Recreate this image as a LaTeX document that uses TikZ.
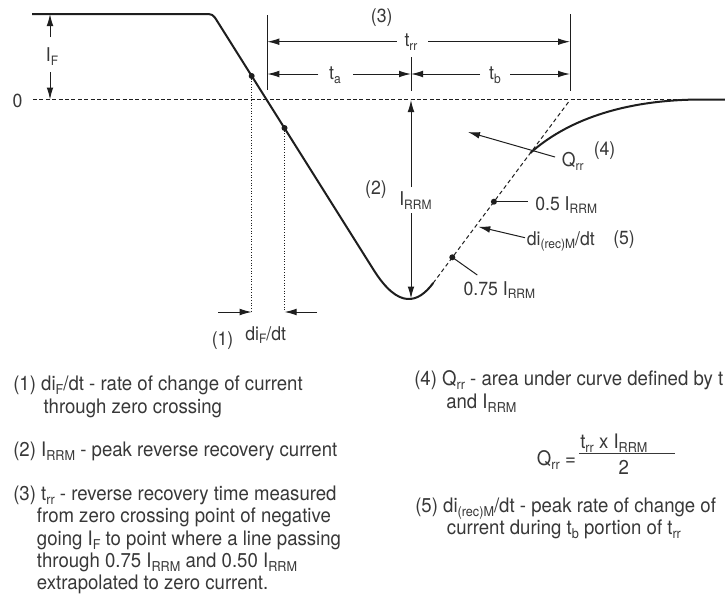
\documentclass[tikz,border=0pt]{standalone}
\usepackage{graphicx}
\usepackage{fontspec}
\setmainfont[FakeStretch=0.93]{TeX Gyre Heros}
\usetikzlibrary{arrows.meta}
\definecolor{txt}{HTML}{383838}
\definecolor{ln}{HTML}{1E1E1E}
\newcommand{\sbs}[1]{\raisebox{-0.2em}{\scalebox{0.68}{#1}}}
\begin{document}
\begin{tikzpicture}[x=0.75pt,y=-0.75pt,
  curve/.style={line width=1.5pt,draw=ln,line join=round},
  dimln/.style={line width=0.75pt,draw=ln},
  tip/.style={-{Latex[length=9pt,width=5pt]}},
  zerol/.style={line width=0.8pt,draw=ln,dash pattern=on 3pt off 1.8pt},
  slopel/.style={line width=0.75pt,draw=ln,dash pattern=on 3pt off 2.2pt},
  dotl/.style={line width=0.75pt,draw=ln,dash pattern=on 0.75pt off 1.25pt},
  lab/.style={text=txt,font=\fontsize{14.25pt}{17pt}\selectfont,inner sep=0pt},
  body/.style={text=txt,font=\fontsize{15pt}{18pt}\selectfont,inner sep=0pt,anchor=base west},
  pdot/.style={circle,fill=ln,inner sep=0pt,minimum size=4.5pt}]
\fill[white] (0,0) rectangle (725,594);
\useasboundingbox (0,0) rectangle (725,594);
\begin{scope}
\clip (0,0) rectangle (725,594);
% ---------- key points ----------
\coordinate (start) at (32,14);
\coordinate (c1) at (204,14);
\coordinate (cc) at (212.7,14);
\coordinate (c2) at (217.5,21.6);
\coordinate (d1) at (373.7,270);
\coordinate (d2) at (433.2,283);
\coordinate (zc) at (570,100);
\coordinate (r0) at (530.3,153);
\coordinate (r1) at (700,99.5);
\coordinate (r2) at (725,99.5);
\coordinate (z0) at (33,99.5);
\coordinate (z1) at (698,99.5);
% ---------- zero line ----------
\draw[zerol] (z0) -- (z1);
% ---------- main curve ----------
\draw[curve] (start) -- (c1) .. controls (cc) .. (c2) -- (d1)
  .. controls (398.7,309.7) and (418.2,303.2) .. (d2);
\draw[slopel] (d2) -- (zc);
\draw[curve] (r0) .. controls (565,122) and (620,100) .. (r1) -- (r2);
% ---------- dots ----------
\node[pdot] (p1) at (251.7,76) {};
\node[pdot] (p2) at (284.5,128) {};
\node[pdot] (p75) at (452.3,257.3) {};
\node[pdot] (p50) at (493.9,201.7) {};
% ---------- I_F ----------
\node[lab,anchor=base] (IF) at (52,61.7) {I\sbs{F}};
\coordinate (IFt) at (50,14);
\coordinate (IFa) at (50,37);
\coordinate (IFb) at (50,72);
\coordinate (IFz) at (50,99.5);
\draw[dimln,tip] (IFa) -- (IFt);
\draw[dimln,tip] (IFb) -- (IFz);
\node[lab,anchor=base] (zero) at (17.5,107) {0};
% ---------- t_rr dimension ----------
\coordinate (tk1a) at (267.3,15);  \coordinate (tk1b) at (267.3,90);
\coordinate (tk2a) at (411,57);    \coordinate (tk2b) at (411,91);
\coordinate (tk3a) at (570,14);    \coordinate (tk3b) at (570,91);
\draw[dimln] (tk1a) -- (tk1b);
\draw[dimln] (tk2a) -- (tk2b);
\draw[dimln] (tk3a) -- (tk3b);
\node[lab,anchor=base] (n3) at (381.7,22.5) {(3)};
\node[lab,anchor=base] (trr) at (411,46.5) {t\sbs{rr}};
\node[lab,anchor=base] (ta) at (335,79.5) {t\sbs{a}};
\node[lab,anchor=base] (tb) at (495,79.5) {t\sbs{b}};
\coordinate (a1l) at (267.3,41.7); \coordinate (a1m) at (396.7,41.7);
\coordinate (a1n) at (428.3,41.7); \coordinate (a1r) at (570,41.7);
\draw[dimln,tip] (a1m) -- (a1l);
\draw[dimln,tip] (a1n) -- (a1r);
\coordinate (a2l) at (267.3,74); \coordinate (a2m) at (318.3,74);
\coordinate (a2n) at (353.3,74); \coordinate (a2c) at (411,74);
\coordinate (a2o) at (480,74); \coordinate (a2p) at (510,74);
\coordinate (a2r) at (570,74);
\draw[dimln,tip] (a2m) -- (a2l);
\draw[dimln,tip] (a2n) -- (a2c);
\draw[dimln,tip] (a2o) -- (a2c);
\draw[dimln,tip] (a2p) -- (a2r);
% ---------- I_RRM ----------
\node[lab,anchor=base] (n2) at (376,194) {(2)};
\node[lab,anchor=base west] (IRRM) at (399,205.7) {I\sbs{RRM}};
\coordinate (ir0) at (411,100);
\coordinate (ir1) at (411,187);
\coordinate (ir2) at (411,213);
\coordinate (ir3) at (411,298.5);
\draw[dimln,tip] (ir1) -- (ir0);
\draw[dimln,tip] (ir2) -- (ir3);
% ---------- di_F/dt ----------
\coordinate (v1) at (251.7,312);
\coordinate (v2) at (284.5,312);
\coordinate (h1) at (218,312);
\coordinate (h2) at (317,312);
\draw[dotl] (p1.center) -- (v1);
\draw[dotl] (p2.center) -- (v2);
\draw[dimln,tip] (h1) -- (v1);
\draw[dimln,tip] (h2) -- (v2);
\node[lab,anchor=base west] (n1) at (211.5,345.5) {(1)};
\node[lab,anchor=base west] (diF) at (245,340) {di\sbs{F}/dt};
% ---------- Q_rr ----------
\coordinate (q0) at (555,157);
\coordinate (q1) at (468,132);
\draw[dimln,tip] (q0) -- (q1);
\node[lab,anchor=base west] (Qrr) at (561.5,166.5) {Q\sbs{rr}};
\node[lab,anchor=base west] (n4) at (593.5,155.5) {(4)};
% ---------- right labels ----------
\coordinate (l50) at (528.3,201.7);
\draw[dimln] (p50.center) -- (l50);
\node[lab,anchor=base west] (t50) at (535,210) {0.5 I\sbs{RRM}};
\coordinate (dA) at (525,237.7);
\coordinate (dB) at (478.3,226.7);
\draw[dimln,tip] (dA) -- (dB);
\node[lab,anchor=base west] (direc) at (526.5,245) {di\sbs{(rec)M}/dt};
\node[lab,anchor=base west] (n5) at (613,244.5) {(5)};
\coordinate (l75) at (477.3,275);
\draw[dimln] (p75.center) -- (l75);
\node[lab,anchor=base west] (t75) at (463.3,295) {0.75 I\sbs{RRM}};
% ---------- text, left column ----------
\node[body] (b1a) at (13,390.5) {(1) di\sbs{F}/dt - rate of change of current};
\node[body] (b1b) at (43.3,413) {through zero crossing};
\node[body] (b2) at (13,456) {(2) I\sbs{RRM} - peak reverse recovery current};
\node[body] (b3a) at (13,500) {(3) t\sbs{rr} - reverse recovery time measured};
\node[body] (b3b) at (36.7,522.5) {from zero crossing point of negative};
\node[body] (b3c) at (36.7,545) {going I\sbs{F} to point where a line passing};
\node[body] (b3d) at (36.7,567) {through 0.75 I\sbs{RRM} and 0.50 I\sbs{RRM}};
\node[body] (b3e) at (36.7,589.5) {extrapolated to zero current.};
% ---------- text, right column ----------
\node[body] (b4a) at (414,385.5) {(4) Q\sbs{rr} - area under curve defined by t};
\node[body] (b4b) at (446,408.5) {and I\sbs{RRM}};
\node[body] (fq) at (536.7,465) {Q\sbs{rr} =};
\node[body] (fnum) at (580,448) {t\sbs{rr} x I\sbs{RRM}};
\node[body,anchor=base] (fden) at (623.8,474) {2};
\coordinate (bar0) at (579,453.5);
\coordinate (bar1) at (675,453.5);
\draw[dimln,draw=txt] (bar0) -- (bar1);
\node[body] (b5a) at (415,512) {(5) di\sbs{(rec)M}/dt - peak rate of change of};
\node[body] (b5b) at (446.7,534) {current during t\sbs{b} portion of t\sbs{rr}};
\end{scope}
\end{tikzpicture}
\end{document}
